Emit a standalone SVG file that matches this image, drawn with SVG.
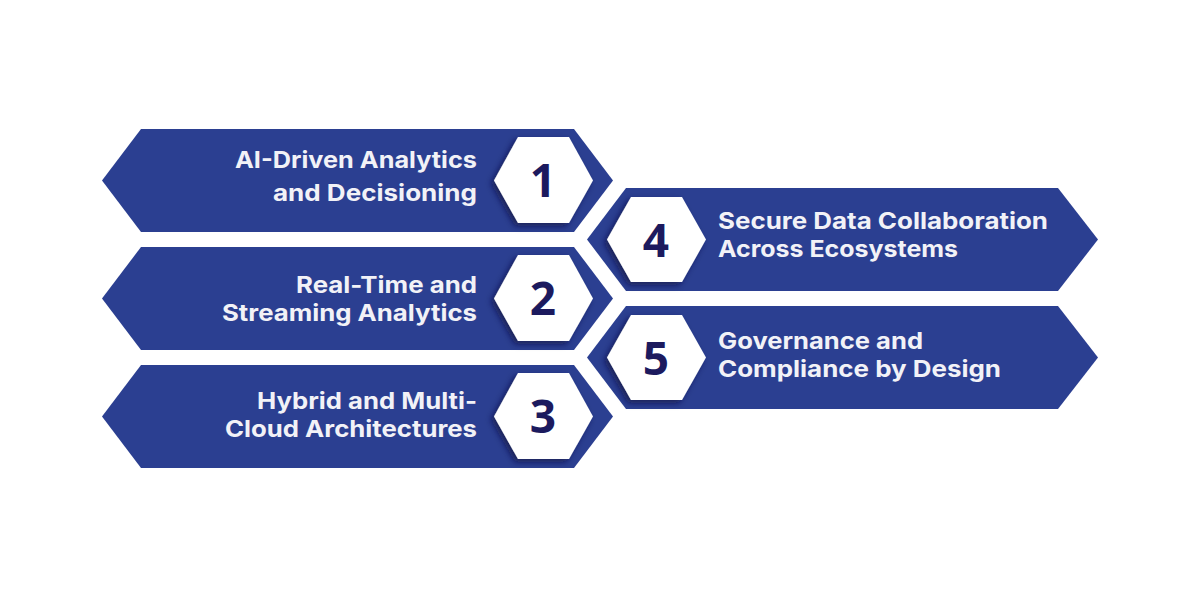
<svg xmlns="http://www.w3.org/2000/svg" width="1200" height="600" viewBox="0 0 1200 600">
<style>
.bar{fill:#2b3f91}
.hex{fill:#fff;filter:url(#sh)}
.lbl{font-family:"Inter","Liberation Sans",sans-serif;font-weight:700;font-size:23px;fill:#f2f2f7}
.end{text-anchor:end}
.num{font-family:"Open Sans","Noto Sans",sans-serif;font-weight:700;font-size:46px;fill:#1c1a5e;text-anchor:middle}
</style>
<defs>
<filter id="sh" x="-20%" y="-20%" width="140%" height="140%"><feDropShadow dx="-3" dy="3" stdDeviation="3" flood-color="#0d1440" flood-opacity="0.7"/></filter>
<polygon id="lb" points="102,51.5 141,0 574,0 613,51.5 574,103 141,103" class="bar"/>
<polygon id="rb" points="587,51.5 626,0 1058,0 1098,51.5 1058,103 626,103" class="bar"/>
<polygon id="lh" points="494,51.5 518,8 569,8 593,51.5 569,94 518,94" class="hex"/>
<polygon id="rh" points="607,51.5 631,9 682,9 706,51.5 682,94 631,94" class="hex"/>
</defs>
<rect width="1200" height="600" fill="#fff"/>
<g id="connectors"/>
<g id="node1"><use href="#lb" y="129"/><use href="#lh" y="129"/>
<text class="lbl end" x="477" y="168" textLength="242" lengthAdjust="spacingAndGlyphs">AI-Driven Analytics</text>
<text class="lbl end" x="477" y="201" textLength="204" lengthAdjust="spacingAndGlyphs">and Decisioning</text>
<text class="num" x="543" y="197">1</text></g>
<g id="node2"><use href="#lb" y="247"/><use href="#lh" y="247"/>
<text class="lbl end" x="477" y="293" textLength="181" lengthAdjust="spacingAndGlyphs">Real-Time and</text>
<text class="lbl end" x="477" y="321" textLength="255" lengthAdjust="spacingAndGlyphs">Streaming Analytics</text>
<text class="num" x="543" y="315">2</text></g>
<g id="node3"><use href="#lb" y="365"/><use href="#lh" y="365"/>
<text class="lbl end" x="477" y="409" textLength="220" lengthAdjust="spacingAndGlyphs">Hybrid and Multi-</text>
<text class="lbl end" x="477" y="437" textLength="252" lengthAdjust="spacingAndGlyphs">Cloud Architectures</text>
<text class="num" x="543" y="433">3</text></g>
<g id="node4"><use href="#rb" y="188"/><use href="#rh" y="188"/>
<text class="lbl" x="718" y="229" textLength="330" lengthAdjust="spacingAndGlyphs">Secure Data Collaboration</text>
<text class="lbl" x="718" y="257" textLength="240" lengthAdjust="spacingAndGlyphs">Across Ecosystems</text>
<text class="num" x="656" y="257">4</text></g>
<g id="node5"><use href="#rb" y="306"/><use href="#rh" y="306"/>
<text class="lbl" x="718" y="349" textLength="205" lengthAdjust="spacingAndGlyphs">Governance and</text>
<text class="lbl" x="718" y="377" textLength="283" lengthAdjust="spacingAndGlyphs">Compliance by Design</text>
<text class="num" x="656" y="375">5</text></g>
</svg>
